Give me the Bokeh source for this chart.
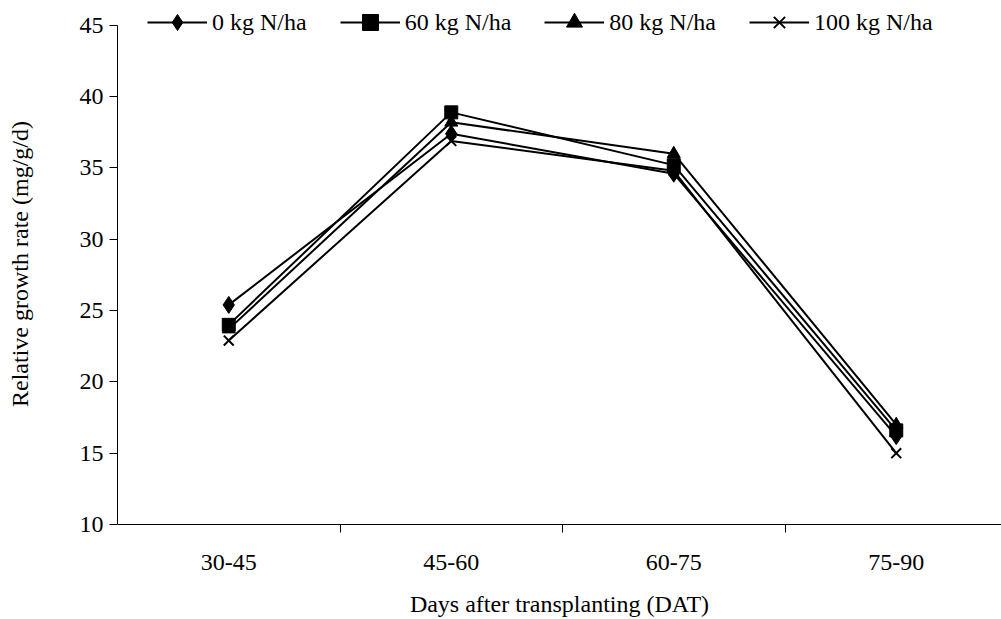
from bokeh.plotting import figure
from bokeh.models import Range1d, FixedTicker
from bokeh.embed import file_html
from bokeh.resources import INLINE

categories = ["30-45", "45-60", "60-75", "75-90"]
n0 = [25.4, 37.4, 34.6, 16.2]
n60 = [24.0, 38.9, 35.2, 16.6]
n80 = [23.7, 38.2, 36.0, 17.0]
n100 = [22.9, 36.9, 34.8, 15.0]
series_labels = ["0 kg N/ha", "60 kg N/ha", "80 kg N/ha", "100 kg N/ha"]
y_ticks = [10, 15, 20, 25, 30, 35, 40, 45]

FONT = "Liberation Serif"
xs = [i + 0.5 for i in range(len(categories))]

PX_PER_UNIT = 502 / 35.0
p = figure(width=1001, height=619, output_backend="svg", toolbar_location=None,
           x_range=Range1d(0, 884 / 222.5),
           y_range=Range1d(10, 45 + 22 / PX_PER_UNIT),
           min_border_left=117, min_border_right=0, min_border_top=3,
           min_border_bottom=92)
p.outline_line_color = None
p.xgrid.visible = False
p.ygrid.visible = False

markers = ["diamond", "square", "triangle", "x"]
sizes = [17, 13, 13, 14]
for vals, lab, mk, sz in zip([n0, n60, n80, n100], series_labels, markers, sizes):
    p.line(xs, vals, line_color="black", line_width=2, legend_label=lab)
    if mk == "x":
        p.scatter(xs, vals, marker=mk, size=sz, line_color="black", line_width=2,
                  legend_label=lab)
    else:
        p.scatter(xs, vals, marker=mk, size=sz, fill_color="black", line_color="black",
                  legend_label=lab)

# x axis
xa = p.xaxis[0]
xa.ticker = FixedTicker(ticks=xs, minor_ticks=[1, 2, 3])
xa.major_label_overrides = {x: c for x, c in zip(xs, categories)}
xa.major_tick_out = 0
xa.major_tick_in = 0
xa.minor_tick_out = 8
xa.minor_tick_in = 0
xa.minor_tick_line_color = "black"
xa.axis_line_color = "black"
xa.major_label_standoff = 22
xa.axis_label = "Days after transplanting (DAT)"
xa.axis_label_standoff = 18

ya = p.yaxis[0]
ya.ticker = FixedTicker(ticks=y_ticks)
ya.bounds = (10, 45)
ya.major_tick_out = 8
ya.major_tick_in = 0
ya.minor_tick_line_color = None
ya.axis_line_color = "black"
ya.major_tick_line_color = "black"
ya.major_label_standoff = 6
ya.axis_label = "Relative growth rate (mg/g/d)"
ya.axis_label_standoff = 44

for ax in (xa, ya):
    ax.major_label_text_font = FONT
    ax.major_label_text_font_size = "24px"
    ax.major_label_text_color = "black"
    ax.axis_label_text_font = FONT
    ax.axis_label_text_font_size = "24px"
    ax.axis_label_text_font_style = "normal"
    ax.axis_label_text_color = "black"

lg = p.legend[0]
lg.orientation = "horizontal"
lg.location = (30, 482)
lg.padding = 0
lg.margin = 0
lg.spacing = 33
lg.glyph_width = 60
lg.glyph_height = 40
lg.label_height = 40
lg.label_standoff = 5
lg.label_text_font = FONT
lg.label_text_font_size = "24px"
lg.label_text_color = "black"
lg.border_line_color = None
lg.background_fill_alpha = 0

open("out.html", "w").write(file_html(p, INLINE))
